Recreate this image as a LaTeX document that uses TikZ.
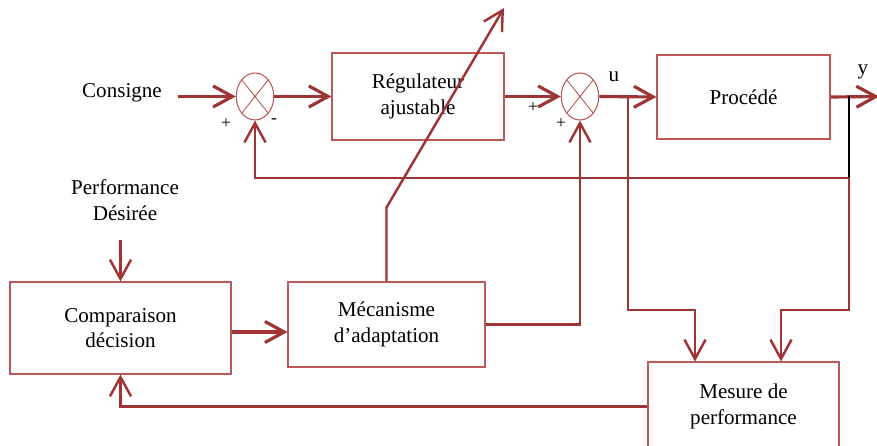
\documentclass[tikz,border=0pt]{standalone}
\usepackage{fontspec}
\setmainfont{Liberation Serif}
\usetikzlibrary{arrows.meta,shapes.geometric,positioning}
\definecolor{brick}{RGB}{158,52,52}
\definecolor{brickl}{RGB}{188,88,88}
\tikzset{
	>={Straight Barb[length=11pt,width=12pt]},
	block/.style={draw=brickl,line width=0.6pt,fill=white,align=center,inner sep=0pt,font=\fontsize{12}{14.5}\selectfont},
	sumnode/.style={draw=brickl,line width=0.6pt,ellipse,minimum width=0.75cm,minimum height=0.94cm,inner sep=0pt,
		path picture={\draw[brickl,line width=0.5pt] (path picture bounding box.south west) -- (path picture bounding box.north east)
			(path picture bounding box.north west) -- (path picture bounding box.south east);}},
	sig/.style={brick,line width=1.8pt},
	fb/.style={brick,line width=1.4pt},
	lbl/.style={align=center,inner sep=0pt,font=\fontsize{12}{14.5}\selectfont},
	sgn/.style={inner sep=0pt,font=\fontsize{10}{12}\selectfont}
}
\begin{document}
\begin{tikzpicture}[x=0.02cm,y=-0.02cm]
	\useasboundingbox (0,0) rectangle (877,446);
	\clip (0,0) rectangle (877,446);
	% Blocks
	\node[lbl] (consigne) at (122,93) {Consigne};
	\node[sumnode] (s1) at (255,96.5) {};
	\node[block,minimum width=3.44cm,minimum height=1.74cm] (reg) at (418,96.5) {Régulateur\\ajustable};
	\node[sumnode] (s2) at (580,96.5) {};
	\node[block,minimum width=3.46cm,minimum height=1.68cm] (proc) at (743.5,97) {Procédé};
	\node[lbl] (perf) at (125,200) {Performance\\Désirée};
	\node[block,minimum width=4.42cm,minimum height=1.84cm] (comp) at (120.5,328) {Comparaison\\décision};
	\node[block,minimum width=3.94cm,minimum height=1.70cm] (meca) at (386.5,324.5) {Mécanisme\\d’adaptation};
	\node[block,minimum width=3.82cm,minimum height=1.78cm] (mes) at (743.5,406.5) {Mesure de\\performance};
	\coordinate (bu) at (628,96.5);
	\coordinate (by) at (849,96.5);
	\coordinate (bd) at (849,178);
	\coordinate (yout) at (879,96.5);
	\coordinate (adj) at (504,8);
	% Main loop
	\draw[sig,->,shorten <=9pt] (consigne.east |- s1.west) -- (s1.west);
	\draw[sig,->] (s1.east) -- (reg.west);
	\draw[sig,->] (reg.east) -- (s2.west);
	\draw[sig,->] (s2.east) -- (proc.west);
	\draw[sig,->] (proc.east) -- (yout);
	\draw[black,line width=1.3pt] (by) -- (bd);
	\draw[fb,->] (bd) -- (s1.south |- bd) -- (s1.south);
	% Adaptation
	\draw[fb,->] (bu) -- (628,310) -| ([xshift=-0.97cm]mes.north);
	\draw[fb,->] (bd) -- (849,310) -| ([xshift=0.75cm]mes.north);
	\draw[fb,->] (mes.west) -| (comp.south);
	\draw[fb,->,shorten <=11pt] (comp.north |- perf.south) -- (comp.north);
	\draw[sig,->] (comp.east |- 0,332) -- (meca.west |- 0,332);
	\draw[fb,->] (meca.east) -| (s2.south);
	\draw[fb,->] (meca.north) -- ++(0,-74) -- (adj);
	%Labels
	\node[sgn] (p1) at (226,124) {+};
	\node[sgn] (m1) at (274,121) {-};
	\node[sgn] (p2) at (533,108) {+};
	\node[sgn] (p3) at (561,124) {+};
	\node[lbl] (ul) at (614,77) {u};
	\node[lbl] (yl) at (863,72) {y};
\end{tikzpicture}
\end{document}
